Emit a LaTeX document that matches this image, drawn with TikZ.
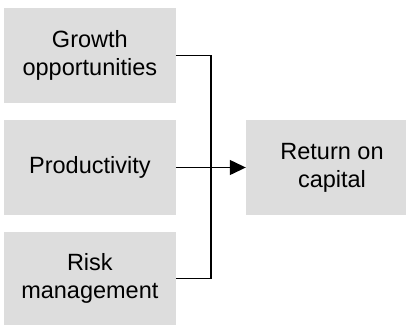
\documentclass[tikz,border=0pt]{standalone}
\usepackage{fontspec}
\setmainfont{Liberation Sans}
\usetikzlibrary{arrows.meta}
\definecolor{boxgray}{RGB}{221,221,221}
\tikzset{
  graybox/.style={rectangle, fill=boxgray, draw=none, inner sep=0pt, align=center,
    minimum width=171.7pt, font=\fontsize{23.5}{28}\selectfont},
  conn/.style={line width=1.3pt, black},
}
\begin{document}
\begin{tikzpicture}[x=1pt,y=-1pt]
\clip (0,0) rectangle (406,325);
\node[graybox, minimum height=95pt] (g) at (89.85,55.5) {Growth\\opportunities};
\node[graybox, minimum height=95pt] (p) at (89.85,167.5) {Productivity};
\node[graybox, minimum height=93pt] (r) at (89.85,278.5) {Risk\\management};
\node[graybox, minimum height=95pt, minimum width=172pt] (ret) at (332,167.5) {Return on\\capital};
\draw[conn] (g.east) -- ++(35,0) |- (r.east);
\draw[conn, -{Triangle[length=16pt,width=15pt]}] (p.east) -- (ret.west);
\end{tikzpicture}
\end{document}
